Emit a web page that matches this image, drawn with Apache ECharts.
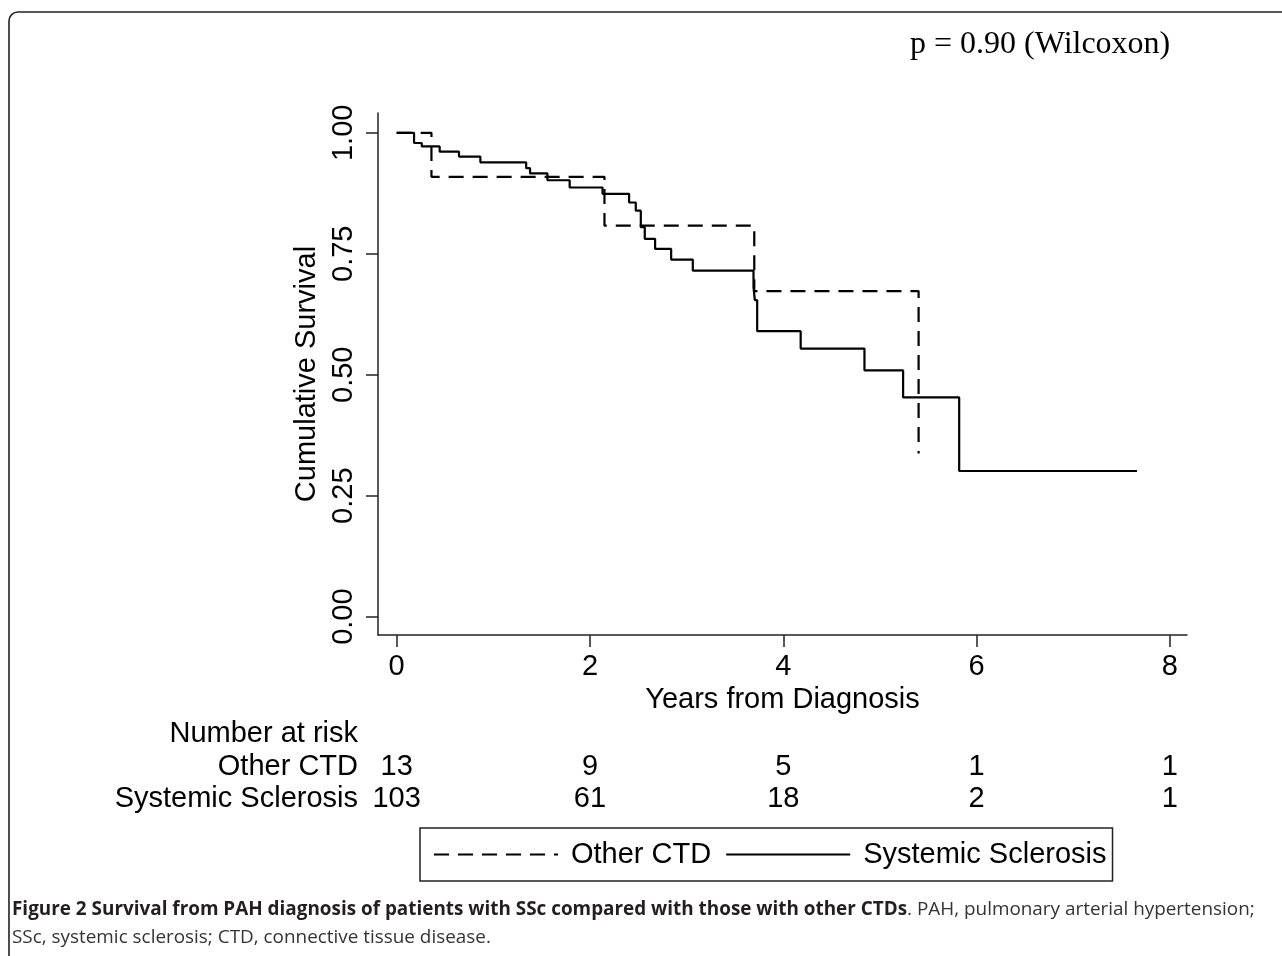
<!DOCTYPE html>
<html>
<head>
<meta charset="utf-8">
<script src="https://cdn.jsdelivr.net/npm/echarts@6/dist/echarts.min.js"></script>
<style>
html,body{margin:0;padding:0;background:#fff;}
#c{width:1282px;height:956px;}
</style>
</head>
<body>
<div id="c"></div>
<script>
// ---- Data ----
const otherCtdTimes = [0, 0.36, 2.15, 3.70, 5.40];
const otherCtdSurv  = [1.0, 0.909, 0.808, 0.673, 0.337];

const sscTimes = [0, 0.18, 0.26, 0.445, 0.645, 0.866, 1.34, 1.38, 1.56, 1.79, 2.13, 2.405, 2.474, 2.526, 2.567, 2.674, 2.84, 3.064, 3.692, 3.706, 3.73, 4.18, 4.84, 5.24, 5.82, 7.66];
const sscSurv  = [1.0, 0.979, 0.972, 0.961, 0.951, 0.939, 0.927, 0.916, 0.902, 0.887, 0.874, 0.856, 0.839, 0.805, 0.781, 0.760, 0.738, 0.715, 0.681, 0.654, 0.590, 0.554, 0.509, 0.453, 0.301, 0.301];

const xTicks = [0, 2, 4, 6, 8];
const yTicks = [0, 0.25, 0.5, 0.75, 1.0];

const groupNames = ['Other CTD', 'Systemic Sclerosis'];
const atRiskTimes = [0, 2, 4, 6, 8];
const atRiskOther = [13, 9, 5, 1, 1];
const atRiskSsc   = [103, 61, 18, 2, 1];

const pText = 'p = 0.90 (Wilcoxon)';
const captionBold = 'Figure 2 Survival from PAH diagnosis of patients with SSc compared with those with other CTDs';
const captionRest = '. PAH, pulmonary arterial hypertension;';
const captionLine2 = 'SSc, systemic sclerosis; CTD, connective tissue disease.';

// ---- Chart ----
const FONT = '"Liberation Sans", Arial, Helvetica, sans-serif';
const FS = 29;
const chart = echarts.init(document.getElementById('c'), null, {renderer: 'canvas'});

const axisCommon = {
  type: 'value',
  splitLine: {show: false},
  axisLine: {show: true, onZero: false, lineStyle: {color: '#222', width: 1.5}},
  axisTick: {show: true, length: 12, lineStyle: {color: '#222', width: 1.5}},
  nameTextStyle: {fontSize: FS, color: '#000', fontFamily: FONT},
  nameLocation: 'middle'
};

chart.setOption({
  animation: false,
  backgroundColor: '#fff',
  grid: {left: 378, right: 95, top: 113, bottom: 321},
  xAxis: Object.assign({}, axisCommon, {
    min: -0.193, max: 8.177,
    axisTick: Object.assign({}, axisCommon.axisTick, {customValues: xTicks}),
    axisLabel: {customValues: xTicks, fontSize: FS, color: '#000', fontFamily: FONT, margin: 17},
    name: 'Years from Diagnosis', nameGap: 48
  }),
  yAxis: Object.assign({}, axisCommon, {
    min: -0.038, max: 1.041,
    axisTick: Object.assign({}, axisCommon.axisTick, {customValues: yTicks}),
    axisLabel: {customValues: yTicks, rotate: 90, fontSize: FS, color: '#000', fontFamily: FONT, margin: 20,
      formatter: v => Number(v).toFixed(2)},
    name: 'Cumulative Survival', nameGap: 40
  }),
  legend: {
    data: groupNames,
    left: 420, top: 828,
    itemWidth: 124, itemHeight: 14, itemGap: 14,
    padding: [12, 6, 12, 13],
    borderColor: '#222', borderWidth: 1.5,
    itemStyle: {opacity: 0},
    textStyle: {fontSize: FS, color: '#000', fontFamily: FONT, padding: [0, 0, 0, 8]},
    selectedMode: false
  },
  series: [
    {
      name: groupNames[0], type: 'line', step: 'end', symbol: 'none',
      data: otherCtdTimes.map((t, i) => [t, otherCtdSurv[i]]),
      lineStyle: {color: '#000', width: 2.2, type: [15, 9]},
      itemStyle: {color: '#000'}
    },
    {
      name: groupNames[1], type: 'line', step: 'end', symbol: 'none',
      data: sscTimes.map((t, i) => [t, sscSurv[i]]),
      lineStyle: {color: '#000', width: 2.2, type: 'solid'},
      itemStyle: {color: '#000'}
    }
  ]
});

// ---- Annotations: number at risk, p-value, caption, frame ----
const atRiskX = atRiskTimes.map(t => chart.convertToPixel({xAxisIndex: 0}, t));
const txt = (x, y, text, align, extra) => ({
  type: 'text', x: x, y: y, silent: true,
  style: Object.assign({text: text, font: FS + 'px ' + FONT, fill: '#000', align: align, verticalAlign: 'middle'}, extra || {})
});

const CAP_FONT = '18.9px "Open Sans", "Noto Sans", sans-serif';
const graphics = [
  {type: 'rect', silent: true, shape: {x: 9, y: 12, width: 1300, height: 980, r: 9},
   style: {fill: 'none', stroke: '#222', lineWidth: 1.6}},
  txt(910, 45, pText, 'left', {font: '32px "Liberation Serif", "Times New Roman", serif'}),
  txt(358, 734, 'Number at risk', 'right'),
  txt(358, 767, groupNames[0], 'right'),
  txt(358, 799, groupNames[1], 'right')
];
atRiskX.forEach((x, i) => {
  graphics.push(txt(x, 767, String(atRiskOther[i]), 'center'));
  graphics.push(txt(x, 799, String(atRiskSsc[i]), 'center'));
});
graphics.push({
  type: 'text', x: 12, y: 910, silent: true,
  style: {
    text: '{b|' + captionBold + '}{r|' + captionRest + '}',
    verticalAlign: 'middle', align: 'left',
    rich: {
      b: {font: 'bold ' + CAP_FONT, fill: '#231f20'},
      r: {font: CAP_FONT, fill: '#333'}
    }
  }
});
graphics.push(txt(12, 938, captionLine2, 'left', {font: CAP_FONT, fill: '#333'}));

chart.setOption({graphic: graphics});
</script>
</body>
</html>
